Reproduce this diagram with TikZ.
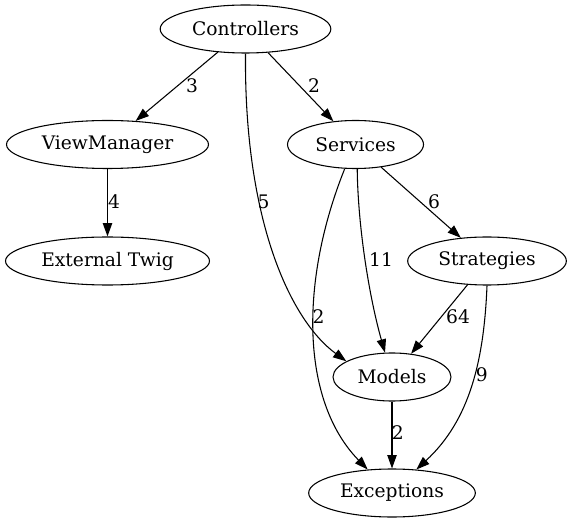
\documentclass[tikz,border=0pt]{standalone}
\usepackage{fontspec}
\setmainfont{DejaVu Serif}
\usetikzlibrary{shapes.geometric,arrows.meta}

\begin{document}
\begin{tikzpicture}[x=0.75pt,y=-0.75pt,
  mod/.style={draw,ellipse,line width=0.8pt,inner sep=0pt,minimum height=36pt,font=\fontsize{14}{16}\selectfont},
  lbl/.style={inner sep=0pt,font=\fontsize{14}{16}\selectfont},
  dep/.style={draw,line width=0.8pt,-{Triangle[length=10pt,width=7pt]}}]
\useasboundingbox (0,0) rectangle (570,523);
% modules
\node[mod,minimum width=128pt] (ctrl) at (245.5,29) {Controllers};
\node[mod,minimum width=151.5pt] (vm) at (107.5,144.5) {ViewManager};
\node[mod,minimum width=102pt] (svc) at (355.5,144.5) {Services};
\node[mod,minimum width=153pt] (twig) at (107.5,261) {External Twig};
\node[mod,minimum width=119pt] (strat) at (487,261) {Strategies};
\node[mod,minimum width=88.5pt] (models) at (392,377) {Models};
\node[mod,minimum width=125pt] (exc) at (392,493) {Exceptions};
% dependencies
\draw[dep] (ctrl) -- (vm);
\draw[dep] (ctrl) -- (svc);
\draw[dep] (vm) -- (twig);
\draw[dep] (svc) -- (strat);
\draw[dep] (strat) -- (models);
\draw[dep] (models) -- (exc);
\draw[dep] (ctrl.south) .. controls (244,220) and (290,320) .. (models.161);
\draw[dep] (svc.-86) .. controls (358,230) and (370,300) .. (models.106);
\draw[dep] (svc.-114) .. controls (300,280) and (300,400) .. (exc.136);
\draw[dep] (strat.south) .. controls (484,360) and (470,420) .. (exc.44);
% counts
\node[lbl] (n3) at (192,86) {3};
\node[lbl] (n2a) at (314,86) {2};
\node[lbl] (n4) at (114,202) {4};
\node[lbl] (n5) at (263.5,202) {5};
\node[lbl] (n6) at (434,202) {6};
\node[lbl] (n11) at (381,260) {11};
\node[lbl] (n2b) at (318.6,317) {2};
\node[lbl] (n64) at (458,317) {64};
\node[lbl] (n9) at (481.7,375) {9};
\node[lbl] (n2c) at (397.7,433) {2};
\end{tikzpicture}
\end{document}
